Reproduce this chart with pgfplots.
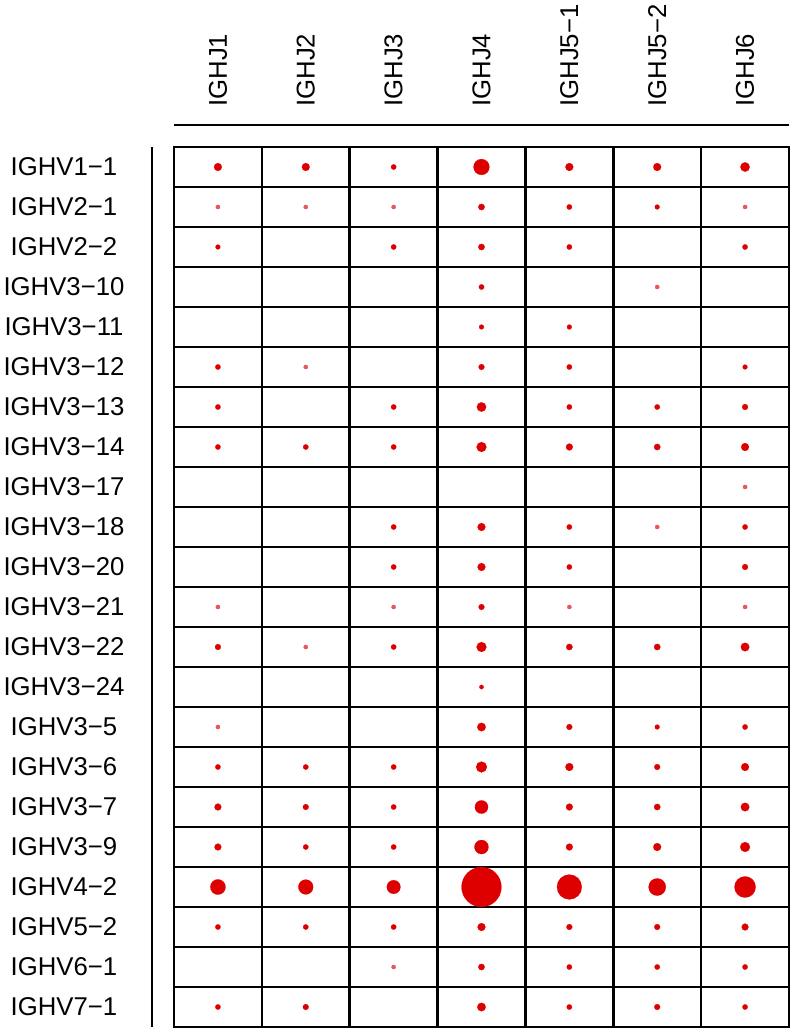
\documentclass[border=0pt]{standalone}
\usepackage{fontspec}
\setmainfont{Liberation Sans}
\usepackage{pgfplots}
\pgfplotsset{compat=1.18}
\usepackage{pgfplotstable}
\definecolor{dotred}{RGB}{222,0,0}
\definecolor{palered}{RGB}{234,85,85}

% x = IGHJ column, y = IGHV row, d = dot diameter (px of reference), p = pale tiny dot
\pgfplotstableread{
x y d p
1 1 8 0
2 1 8 0
3 1 5.5 0
4 1 16 0
5 1 8 0
6 1 8 0
7 1 9.5 0
1 2 4.5 1
2 2 4.5 1
3 2 4.5 1
4 2 6.5 0
5 2 5.5 0
6 2 5 0
7 2 4.5 1
1 3 5 0
3 3 5.5 0
4 3 6.5 0
5 3 5.5 0
7 3 5.5 0
4 4 5.5 0
6 4 4.5 1
4 5 5 0
5 5 5 0
1 6 5.5 0
2 6 4.5 1
4 6 6 0
5 6 5.5 0
7 6 5 0
1 7 5.5 0
3 7 5.5 0
4 7 9.5 0
5 7 5.5 0
6 7 5.5 0
7 7 6 0
1 8 5.5 0
2 8 5.5 0
3 8 5.5 0
4 8 10 0
5 8 7 0
6 8 6.5 0
7 8 8 0
7 9 4.5 1
3 10 5.5 0
4 10 8 0
5 10 5.5 0
6 10 4.5 1
7 10 5.5 0
3 11 5.5 0
4 11 8 0
5 11 5.5 0
7 11 6 0
1 12 4.5 1
3 12 4.5 1
4 12 6 0
5 12 4.5 1
7 12 4.5 1
1 13 6 0
2 13 4.5 1
3 13 5.5 0
4 13 10 0
5 13 6.5 0
6 13 6.5 0
7 13 8.7 0
4 14 4.5 0
1 15 4.5 1
4 15 8.7 0
5 15 6 0
6 15 5 0
7 15 5.5 0
1 16 5.5 0
2 16 5.5 0
3 16 5.5 0
4 16 11 0
5 16 8 0
6 16 6 0
7 16 8 0
1 17 7 0
2 17 6 0
3 17 5.5 0
4 17 13.4 0
5 17 7 0
6 17 6.5 0
7 17 8.7 0
1 18 7 0
2 18 5.5 0
3 18 5.5 0
4 18 14.2 0
5 18 7 0
6 18 8 0
7 18 10 0
1 19 15.4 0
2 19 15 0
3 19 13.8 0
4 19 40 0
5 19 25 0
6 19 17.4 0
7 19 21.3 0
1 20 5.5 0
2 20 5.5 0
3 20 5.5 0
4 20 8 0
5 20 6 0
6 20 6 0
7 20 7 0
3 21 4.5 1
4 21 6.5 0
5 21 5.5 0
6 21 5.5 0
7 21 5.5 0
1 22 5.5 0
2 22 6 0
4 22 8.7 0
5 22 5.5 0
6 22 6 0
7 22 5.5 0
}\dots

\begin{document}
\begin{tikzpicture}
\begin{axis}[
  at={(0,0)},anchor=south west,
  scale only axis,width=461.25pt,height=660pt,
  xmin=0.5,xmax=7.5,ymin=0.5,ymax=22.5,
  y dir=reverse,
  clip=false,
  xtick={1,...,7},
  xticklabels={IGHJ1,IGHJ2,IGHJ3,IGHJ4,IGHJ5−1,IGHJ5−2,IGHJ6},
  ytick={1,...,22},
  yticklabels={IGHV1−1,IGHV2−1,IGHV2−2,IGHV3−10,IGHV3−11,IGHV3−12,IGHV3−13,
    IGHV3−14,IGHV3−17,IGHV3−18,IGHV3−20,IGHV3−21,IGHV3−22,IGHV3−24,IGHV3−5,
    IGHV3−6,IGHV3−7,IGHV3−9,IGHV4−2,IGHV5−2,IGHV6−1,IGHV7−1},
  minor xtick={1.5,2.5,...,6.5},
  minor ytick={1.5,2.5,...,21.5},
  xminorgrids,yminorgrids,
  minor grid style={black,line width=2pt},
  major tick length=0pt,minor tick length=0pt,
  axis line style={black,line width=2pt},
  xticklabel pos=upper,
  tick label style={font=\fontsize{19.3}{23}\selectfont},
  xticklabel style={rotate=90,anchor=west,inner sep=0pt},
  xticklabel shift=30pt,
  yticklabel style={anchor=center,inner sep=0pt,xshift=-82.5pt},
  colormap={reds}{color(0)=(dotred) color(1)=(palered)},
  point meta min=0,point meta max=1,
]
\addplot[scatter,only marks,mark=*,
  point meta=\thisrow{p},
  mark options={line width=0.15pt},
  scatter/use mapped color={draw=mapped color,fill=mapped color},
  visualization depends on={0.375*\thisrow{d}-0.075 \as \rad},
  scatter/@pre marker code/.append style={/tikz/mark size=\rad pt}]
  table[x=x,y=y] {\dots};
\draw[line width=2pt] ([yshift=16.5pt]axis description cs:0,1) -- ([yshift=16.5pt]axis description cs:1,1);
\draw[line width=2pt] ([xshift=-16.5pt]axis description cs:0,0) -- ([xshift=-16.5pt]axis description cs:0,1);
\end{axis}
\path (-130.5pt,-3pt) rectangle (464.25pt,770.25pt);
\end{tikzpicture}
\end{document}
